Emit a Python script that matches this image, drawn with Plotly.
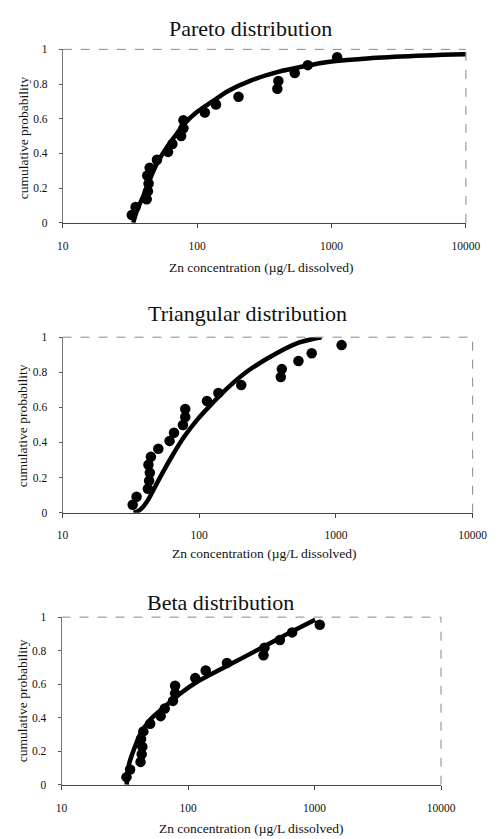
import plotly.graph_objects as go

# Observed Zn concentrations (µg/L dissolved) and empirical cumulative probabilities
obs_zn = [32.6, 34.8, 42.1, 43.0, 43.5, 42.5, 44.3, 50.2, 60.7, 65.4, 76.0,
          79.0, 79.0, 114.0, 138.0, 203.0, 395.0, 402.0, 532.0, 665.0, 1100.0]
obs_p = [0.045, 0.091, 0.136, 0.182, 0.227, 0.273, 0.318, 0.364, 0.409, 0.455, 0.5,
         0.545, 0.591, 0.636, 0.682, 0.727, 0.773, 0.818, 0.864, 0.909, 0.955]

# Fitted curves
pareto_x = [33.4, 36, 40, 45, 50, 60, 70, 80, 100, 130, 170, 250, 400, 600, 1000, 2000, 5000, 10000]
pareto_p = [0.0, 0.08, 0.16, 0.26, 0.34, 0.44, 0.51, 0.57, 0.64, 0.70, 0.76, 0.82, 0.87, 0.90, 0.93, 0.95, 0.965, 0.972]

tri_x = [33.1, 35.9, 38.9, 42, 50.8, 63, 78, 96.8, 127, 166, 229, 371, 540, 785]
tri_p = [0.0, 0.01, 0.034, 0.07, 0.19, 0.32, 0.435, 0.53, 0.63, 0.72, 0.81, 0.91, 0.97, 1.0]

beta_x = [32.7, 34.1, 36.1, 41.8, 49.8, 66.5, 89, 114, 203, 400, 665, 1012]
beta_p = [0.0, 0.12, 0.18, 0.30, 0.385, 0.47, 0.55, 0.607, 0.708, 0.825, 0.915, 0.985]

titles = ["Pareto distribution", "Triangular distribution", "Beta distribution"]
x_title = "Zn concentration (µg/L dissolved)"
y_title = "cumulative probability"
y_ticks = [0, 0.2, 0.4, 0.6, 0.8, 1]
y_ticklabels = ["0", "0.2", "0.4", "0.6", "0.8", "1"]
x_ticks = [10, 100, 1000, 10000]
x_ticklabels = ["10", "100", "1000", "10000"]

W, H = 502, 839
FONT = "Liberation Serif"

# plot-area pixel boxes: (left, right, top, bottom)
boxes = [(59.3, 480, 44, 220), (59, 487, 336, 514), (58, 454, 620, 790)]
title_pos = [(255, 23), (252, 312), (224, 605)]
xtitle_pos = [(267, 265), (270, 555), (256, 834)]
ytitle_pos = [(18, 134), (18, 426), (18, 705)]

curves = [(pareto_x, pareto_p), (tri_x, tri_p), (beta_x, beta_p)]

fig = go.Figure()
layout = dict(width=W, height=H, margin=dict(l=0, r=0, t=0, b=0),
              paper_bgcolor="white", plot_bgcolor="white", showlegend=False,
              font=dict(family=FONT, color="#111"))
annotations = []
shapes = []

for i in range(3):
    xa = "xaxis" if i == 0 else f"xaxis{i+1}"
    ya = "yaxis" if i == 0 else f"yaxis{i+1}"
    xr = "x" if i == 0 else f"x{i+1}"
    yr = "y" if i == 0 else f"y{i+1}"
    l, r, t, b = boxes[i]
    layout[xa] = dict(domain=[l / W, r / W], type="log", range=[1, 4], anchor=yr,
                      tickvals=x_ticks, ticktext=x_ticklabels, showgrid=False,
                      zeroline=False, showline=True, linecolor="#444", linewidth=1,
                      ticks="outside", ticklen=4, tickcolor="#444",
                      ticklabelstandoff=8,
                      tickfont=dict(family=FONT, size=11.5, color="#111"))
    layout[ya] = dict(domain=[1 - b / H, 1 - t / H], range=[0, 1], anchor=xr,
                      tickvals=y_ticks, ticktext=y_ticklabels, showgrid=False,
                      zeroline=False, showline=True, linecolor="#777", linewidth=1,
                      ticks="outside", ticklen=3, tickcolor="#555",
                      ticklabelstandoff=9,
                      tickfont=dict(family=FONT, size=11.5, color="#111"))
    cx, cp = curves[i]
    fig.add_trace(go.Scatter(x=cx, y=cp, mode="lines", xaxis=xr, yaxis=yr,
                             line=dict(color="black", width=4.5, shape="spline"),
                             hoverinfo="skip"))
    fig.add_trace(go.Scatter(x=obs_zn, y=obs_p, mode="markers", xaxis=xr, yaxis=yr,
                             marker=dict(color="black", size=10.5)))
    # dashed top and right borders of the plot area
    shapes.append(dict(type="line", xref=f"{xr} domain", yref=f"{yr} domain",
                       x0=0, x1=1, y0=1, y1=1, line=dict(color="#888", width=1, dash="dash")))
    shapes.append(dict(type="line", xref=f"{xr} domain", yref=f"{yr} domain",
                       x0=1, x1=1, y0=0, y1=1, line=dict(color="#888", width=1, dash="dash")))
    tx, ty = title_pos[i]
    annotations.append(dict(text=titles[i], x=tx / W, y=1 - ty / H, xref="paper", yref="paper",
                            showarrow=False, xanchor="center", yanchor="middle",
                            font=dict(family=FONT, size=22, color="#111")))
    ax_, ay_ = xtitle_pos[i]
    annotations.append(dict(text=x_title, x=ax_ / W, y=1 - ay_ / H, xref="paper", yref="paper",
                            showarrow=False, xanchor="center", yanchor="middle",
                            font=dict(family=FONT, size=13.5, color="#111")))
    bx, by = ytitle_pos[i]
    annotations.append(dict(text=y_title, x=bx / W, y=1 - by / H, xref="paper", yref="paper",
                            showarrow=False, xanchor="center", yanchor="middle", textangle=-90,
                            font=dict(family=FONT, size=13.5, color="#111")))

layout["annotations"] = annotations
layout["shapes"] = shapes
fig.update_layout(**layout)
fig.write_html("out.html")
